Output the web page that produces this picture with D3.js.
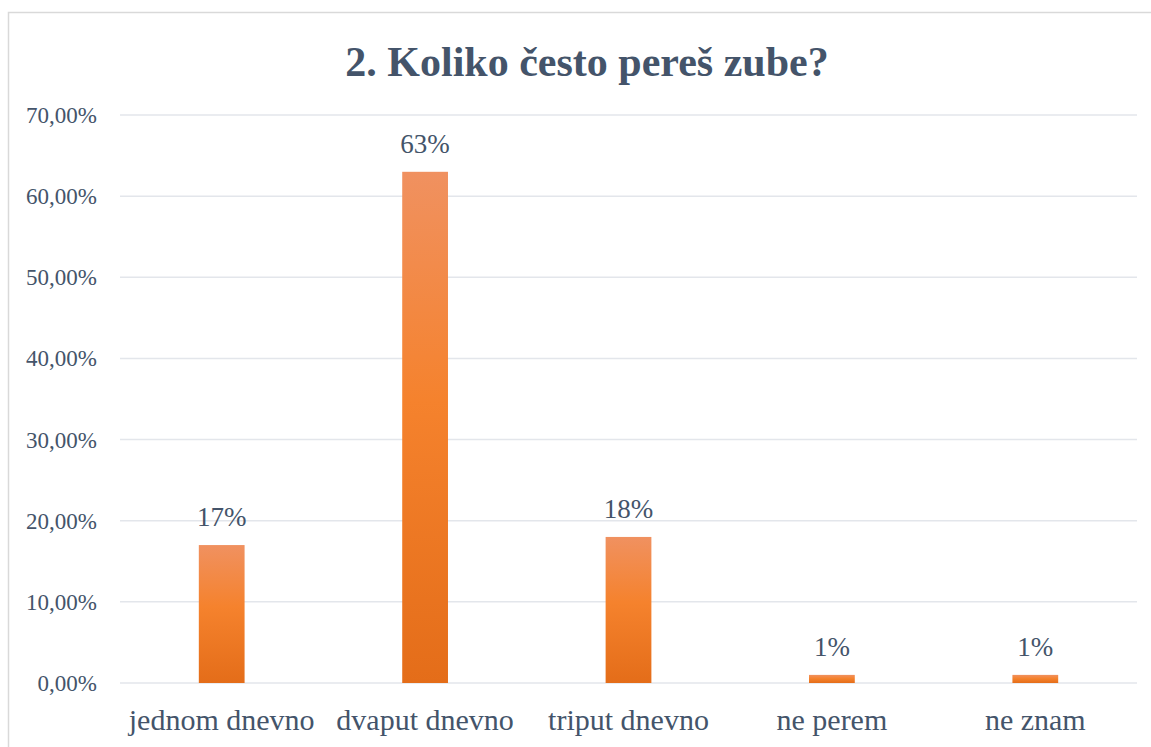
<!DOCTYPE html>
<html>
<head>
<meta charset="utf-8">
<script src="https://cdn.jsdelivr.net/npm/d3@7"></script>
<style>
  body { margin: 0; background: #fff; }
  svg text { fill: #44546a; }
</style>
</head>
<body>
<svg id="chart" width="1151" height="747"></svg>
<script>
var categories = ['jednom dnevno', 'dvaput dnevno', 'triput dnevno', 'ne perem', 'ne znam'];
var values = [0.17, 0.63, 0.18, 0.01, 0.01];
var labels = ['17%', '63%', '18%', '1%', '1%'];
var yTicks = [0, 0.1, 0.2, 0.3, 0.4, 0.5, 0.6, 0.7];
var title = '2. Koliko često pereš zube?';

var FONT = "'Liberation Serif', Tinos, 'DejaVu Serif', serif";
var svg = d3.select('#chart').attr('font-family', FONT);
var margin = {left: 120, right: 14, top: 115, bottom: 64};
var W = 1151, H = 747;

// chart frame
svg.append('rect')
    .attr('x', 8.5).attr('y', 12.5)
    .attr('width', W + 10).attr('height', H + 10)
    .attr('fill', '#fff').attr('stroke', '#d9d9d9').attr('stroke-width', 1.5);

var defs = svg.append('defs');
var grad = defs.append('linearGradient').attr('id', 'barGrad')
    .attr('x1', 0).attr('y1', 0).attr('x2', 0).attr('y2', 1);
grad.append('stop').attr('offset', '0%').attr('stop-color', '#f09160');
grad.append('stop').attr('offset', '45%').attr('stop-color', '#f5822d');
grad.append('stop').attr('offset', '100%').attr('stop-color', '#e46d19');

var x = d3.scaleBand().domain(categories)
    .range([margin.left, W - margin.right]).paddingInner(0.775).paddingOuter(0.3875);
var y = d3.scaleLinear().domain([0, 0.7]).range([H - margin.bottom, margin.top]);

// gridlines
svg.append('g').selectAll('line').data(yTicks).join('line')
    .attr('x1', margin.left).attr('x2', W - margin.right)
    .attr('y1', function (d) { return y(d); }).attr('y2', function (d) { return y(d); })
    .attr('stroke', '#e3e6eb').attr('stroke-width', 1.5);

// y axis labels
var fmt = function (d) { return (d * 100).toFixed(2).replace('.', ',') + '%'; };
svg.append('g').selectAll('text').data(yTicks).join('text')
    .attr('x', 97).attr('y', function (d) { return y(d); })
    .attr('dy', '0.35em').attr('text-anchor', 'end')
    .style('font-size', '23px')
    .text(fmt);

// bars
svg.append('g').selectAll('rect').data(values).join('rect')
    .attr('x', function (d, i) { return x(categories[i]); })
    .attr('width', x.bandwidth())
    .attr('y', function (d) { return y(d); })
    .attr('height', function (d) { return y(0) - y(d); })
    .attr('fill', 'url(#barGrad)');

// data labels
svg.append('g').selectAll('text').data(values).join('text')
    .attr('x', function (d, i) { return x(categories[i]) + x.bandwidth() / 2; })
    .attr('y', function (d) { return y(d) - 19; })
    .attr('text-anchor', 'middle')
    .style('font-size', '27px')
    .text(function (d, i) { return labels[i]; });

// category labels
svg.append('g').selectAll('text').data(categories).join('text')
    .attr('x', function (d) { return x(d) + x.bandwidth() / 2; })
    .attr('y', 730)
    .attr('text-anchor', 'middle')
    .style('font-size', '30px')
    .text(function (d) { return d; });

// title
svg.append('text')
    .attr('x', 587).attr('y', 76)
    .attr('text-anchor', 'middle')
    .style('font-size', '42px').style('font-weight', 'bold')
    .text(title);
</script>
</body>
</html>
